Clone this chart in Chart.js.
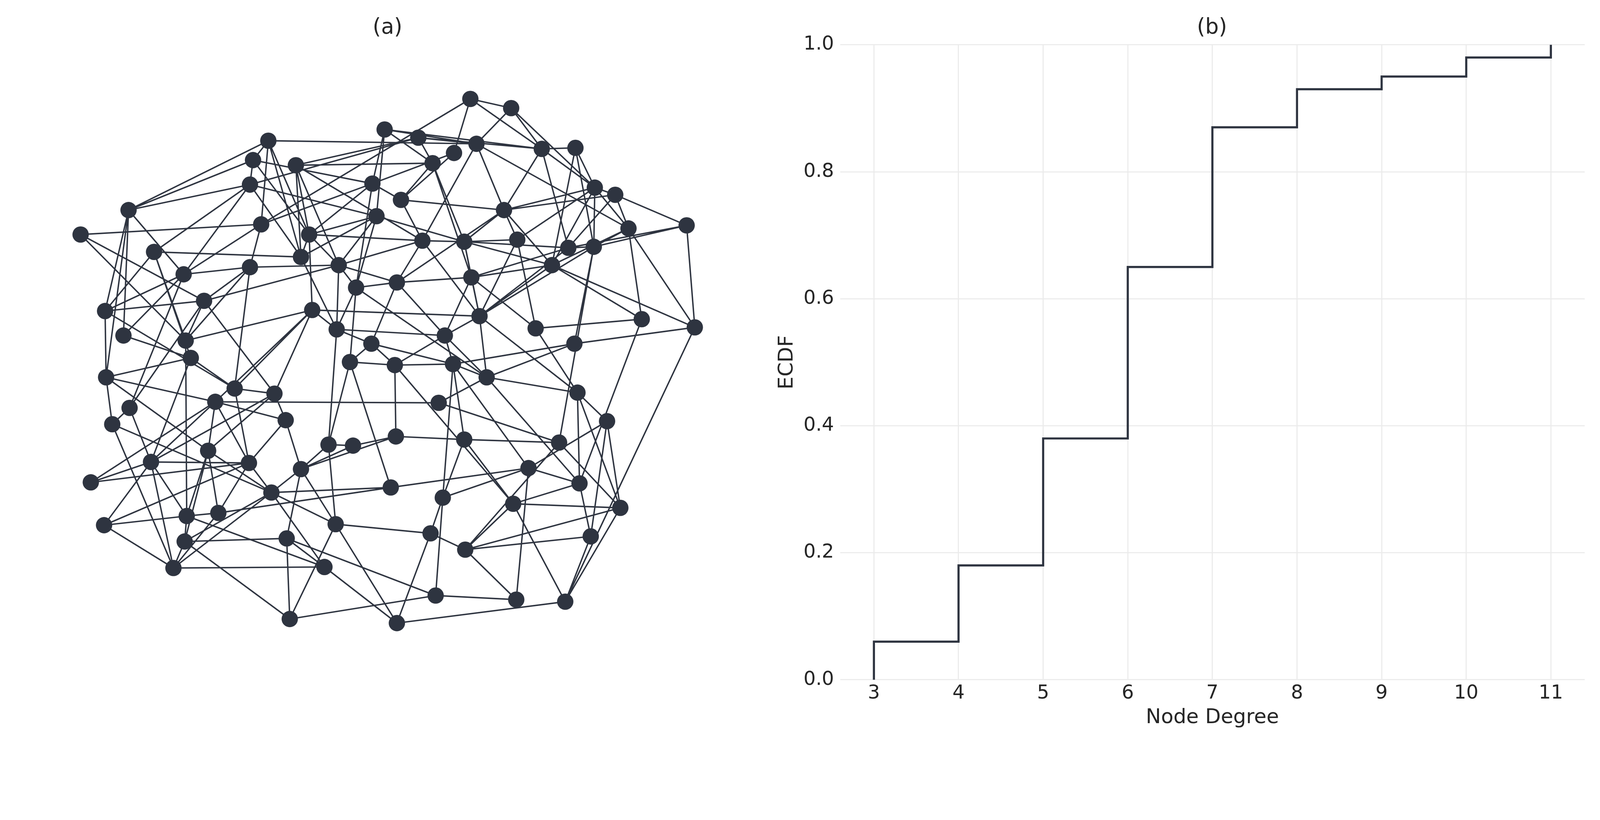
<!DOCTYPE html>
<html>
<head>
<meta charset="utf-8">
<script src="https://cdn.jsdelivr.net/npm/chart.js@4.4.1/dist/chart.umd.min.js"></script>
<style>
  html, body { margin: 0; padding: 0; background: #ffffff; overflow: hidden; }
  body { position: relative; width: 100vw; height: 100vh; }
  canvas { position: absolute; top: 0; }
</style>
</head>
<body>
<canvas id="network"></canvas>
<canvas id="ecdf"></canvas>
<script>
// (a) network layout, node positions
const nodeX = [461,501,377,263,410,467,531,564,248,290,445,424,245,365,583,603,393,126,494,369,
               256,616,673,79,303,414,455,507,151,557,582,295,332,541,245,180,389,462,349,200,
               306,103,470,629,681,121,330,436,525,182,364,563,187,343,387,444,104,477,230,269,
               566,211,430,127,110,280,595,322,346,388,455,548,204,148,244,295,518,89,568,383,
               266,434,503,608,102,183,214,329,422,579,181,281,456,170,318,427,506,554,284,389];
const nodeY = [97,106,127,138,135,141,146,145,157,162,150,160,181,180,184,191,196,206,206,212,
               220,224,221,230,230,236,237,235,247,243,242,252,260,260,262,269,277,272,282,295,
               304,305,310,313,321,329,323,329,322,334,337,337,351,355,358,357,370,370,381,386,
               385,394,395,400,416,412,413,436,437,428,431,434,442,453,454,460,459,473,474,478,
               483,488,494,498,515,506,503,514,523,526,531,528,539,557,556,584,588,590,607,611];

// edges as pairs of node numbers (1-based)
const edges = [
  [1,2],[1,21],[1,11],[1,7],[2,6],[2,15],[2,7],[3,6],[3,7],[3,12],[3,14],[3,20],[4,6],[4,9],[4,18],
  [4,21],[4,25],[4,32],[5,6],[5,7],[5,10],[5,13],[5,12],[6,19],[6,22],[6,26],[7,8],[7,19],[7,30],
  [7,15],[8,34],[8,31],[8,15],[9,13],[9,14],[9,18],[9,25],[10,12],[10,32],[10,25],[10,33],[10,26],
  [11,17],[11,14],[12,38],[12,17],[12,27],[13,18],[13,29],[13,32],[13,36],[13,20],[14,25],[14,39],
  [14,21],[15,16],[15,19],[15,31],[15,34],[15,22],[15,28],[16,23],[16,22],[16,19],[16,30],[17,19],
  [17,14],[17,26],[18,42],[18,46],[18,36],[18,57],[19,28],[19,34],[19,27],[19,37],[20,39],[20,27],
  [20,25],[20,33],[20,32],[21,24],[21,35],[21,36],[22,44],[22,45],[22,34],[22,31],[23,31],[23,45],
  [23,30],[24,40],[24,50],[25,26],[25,33],[25,41],[25,32],[26,27],[26,33],[26,37],[26,43],[27,28],
  [27,30],[27,34],[27,38],[27,43],[28,43],[28,49],[29,32],[29,42],[29,50],[29,53],[30,31],[30,43],
  [30,38],[31,52],[31,72],[31,43],[32,47],[33,35],[33,37],[33,39],[33,47],[33,40],[34,45],[34,44],
  [34,43],[34,38],[35,59],[35,50],[36,42],[36,64],[37,38],[37,51],[37,48],[37,39],[38,43],[38,49],
  [38,48],[39,54],[39,58],[39,47],[40,42],[40,64],[41,47],[41,62],[41,43],[41,59],[41,60],[42,57],
  [42,59],[43,48],[43,58],[43,61],[44,49],[44,79],[45,52],[45,98],[47,48],[47,51],[48,58],[48,55],
  [48,56],[49,61],[51,56],[51,54],[51,55],[52,58],[54,55],[54,80],[54,68],[55,56],[55,70],[56,58],
  [56,82],[56,77],[56,71],[58,61],[58,63],[58,79],[61,79],[61,84],[61,67],[63,62],[63,72],[67,77],
  [67,84],[67,90],[70,71],[71,72],[71,82],[71,83],[72,84],[72,93],[77,79],[77,97],[77,80],[77,82],
  [79,83],[79,90],[82,89],[82,96],[83,84],[83,93],[83,98],[84,93],[84,98],[89,100],[90,93],[90,98],
  [93,97],[96,97],[96,99],[98,100],[95,100],[88,100],[88,99],[92,99],[91,99],[92,95],[91,92],[94,95],
  [91,94],[86,95],[86,91],[86,87],[86,85],[86,50],[85,94],[85,74],[85,75],[87,80],[87,94],[87,73],
  [87,75],[73,86],[73,81],[73,91],[73,57],[73,60],[73,62],[81,95],[81,91],[81,88],[81,80],[81,94],
  [81,65],[81,75],[81,76],[76,69],[76,70],[76,92],[76,88],[76,66],[66,75],[66,60],[66,62],[68,69],
  [68,88],[68,76],[69,70],[62,57],[62,75],[62,74],[62,78],[60,59],[60,74],[59,53],[59,75],[57,53],
  [57,65],[64,74],[64,65],[65,94],[74,75],[74,78],[75,78],[74,53],[74,94],[74,86],[46,36],[46,53],
  [50,40],[50,41],[36,35],[40,35],[40,60],[89,93],[89,88],[92,96],[68,47],[52,56],[55,83]
];

// (b) ECDF of node degree
const degrees = [3, 4, 5, 6, 7, 8, 9, 10, 11];
const ecdfValues = [0.06, 0.18, 0.38, 0.65, 0.87, 0.93, 0.95, 0.98, 1.00];
const yTicks = [0, 0.2, 0.4, 0.6, 0.8, 1.0];

const ink = '#2e3440';
const textColor = '#262626';
const gridColor = '#ebebeb';
const fontFamily = '"DejaVu Sans", sans-serif';

// everything below is laid out on a 4500 x 2100 design, scaled to the window
const s = window.innerWidth / 4500;
const PX = 4500 / 1568;          // picture units -> design pixels
const splitX = 2180;             // where the second panel's canvas starts

const netCanvas = document.getElementById('network');
netCanvas.width = Math.round(splitX * s);
netCanvas.height = Math.round(2100 * s);
netCanvas.style.left = '0px';

const ecdfCanvas = document.getElementById('ecdf');
ecdfCanvas.width = Math.round((4500 - splitX) * s);
ecdfCanvas.height = Math.round(2100 * s);
ecdfCanvas.style.left = Math.round(splitX * s) + 'px';

// small plugin that writes the panel letter above each plot
const panelTitle = {
  id: 'panelTitle',
  afterDraw(chart, args, opts) {
    const ctx = chart.ctx;
    ctx.save();
    ctx.font = (60 * s) + 'px ' + fontFamily;
    ctx.fillStyle = textColor;
    ctx.textAlign = 'center';
    ctx.textBaseline = 'middle';
    ctx.fillText(opts.text, opts.x * s, opts.y * s);
    ctx.restore();
  }
};

const nodePoints = nodeX.map((x, i) => ({ x: x, y: nodeY[i] }));
const edgePoints = [];
edges.forEach(([a, b]) => {
  edgePoints.push({ x: nodeX[a - 1], y: nodeY[a - 1] });
  edgePoints.push({ x: nodeX[b - 1], y: nodeY[b - 1] });
  edgePoints.push({ x: nodeX[b - 1], y: null });   // break the line
});

new Chart(netCanvas, {
  type: 'scatter',
  data: {
    datasets: [
      {
        type: 'line',
        data: edgePoints,
        borderColor: ink,
        borderWidth: 4 * s,
        pointRadius: 0,
        spanGaps: false,
        fill: false,
        tension: 0,
        order: 2
      },
      {
        data: nodePoints,
        pointRadius: 23 * s,
        pointBackgroundColor: ink,
        pointBorderWidth: 0,
        order: 1
      }
    ]
  },
  options: {
    animation: false,
    responsive: false,
    layout: { padding: 0, autoPadding: false },
    plugins: {
      legend: { display: false },
      tooltip: { enabled: false },
      panelTitle: { text: '(a)', x: 1090, y: 79 }
    },
    scales: {
      x: { type: 'linear', display: false, min: 0, max: splitX / PX },
      y: { type: 'linear', display: false, min: 0, max: 2100 / PX, reverse: true }
    }
  },
  plugins: [panelTitle]
});

// ECDF starts at zero on the smallest degree, then steps up at each degree
const stepPoints = [{ x: degrees[0], y: 0 }].concat(
  degrees.map((d, i) => ({ x: d, y: ecdfValues[i] }))
);

new Chart(ecdfCanvas, {
  type: 'scatter',
  data: {
    datasets: [{
      type: 'line',
      data: stepPoints,
      stepped: 'before',
      borderColor: ink,
      borderWidth: 6 * s,
      pointRadius: 0,
      fill: false,
      clip: false
    }]
  },
  options: {
    animation: false,
    responsive: false,
    layout: { padding: { top: 126 * s, right: 43 * s, left: 0, bottom: 0 }, autoPadding: false },
    plugins: {
      legend: { display: false },
      tooltip: { enabled: false },
      panelTitle: { text: '(b)', x: 3409 - splitX, y: 79 }
    },
    scales: {
      x: {
        type: 'linear',
        min: 2.6,
        max: 11.4,
        afterBuildTicks: sc => { sc.ticks = degrees.map(v => ({ value: v })); },
        afterFit: sc => { sc.height = 187 * s; },
        grid: { color: gridColor, lineWidth: 3 * s, drawTicks: false },
        border: { display: false },
        ticks: {
          padding: 7 * s,
          color: textColor,
          font: { size: 54 * s, family: fontFamily },
          callback: v => String(v)
        },
        title: {
          display: true,
          text: 'Node Degree',
          color: textColor,
          font: { size: 57 * s, family: fontFamily },
          padding: { top: 0, bottom: 45 * s }
        }
      },
      y: {
        type: 'linear',
        min: 0,
        max: 1,
        afterBuildTicks: sc => { sc.ticks = yTicks.map(v => ({ value: v })); },
        afterFit: sc => { sc.width = 183 * s; },
        grid: { color: gridColor, lineWidth: 3 * s, drawTicks: false },
        border: { display: false },
        ticks: {
          padding: 17 * s,
          color: textColor,
          font: { size: 54 * s, family: fontFamily },
          callback: v => Number(v).toFixed(1)
        },
        title: {
          display: true,
          text: 'ECDF',
          color: textColor,
          font: { size: 57 * s, family: fontFamily },
          padding: { top: 0, bottom: 0 }
        }
      }
    }
  },
  plugins: [panelTitle]
});
</script>
</body>
</html>
